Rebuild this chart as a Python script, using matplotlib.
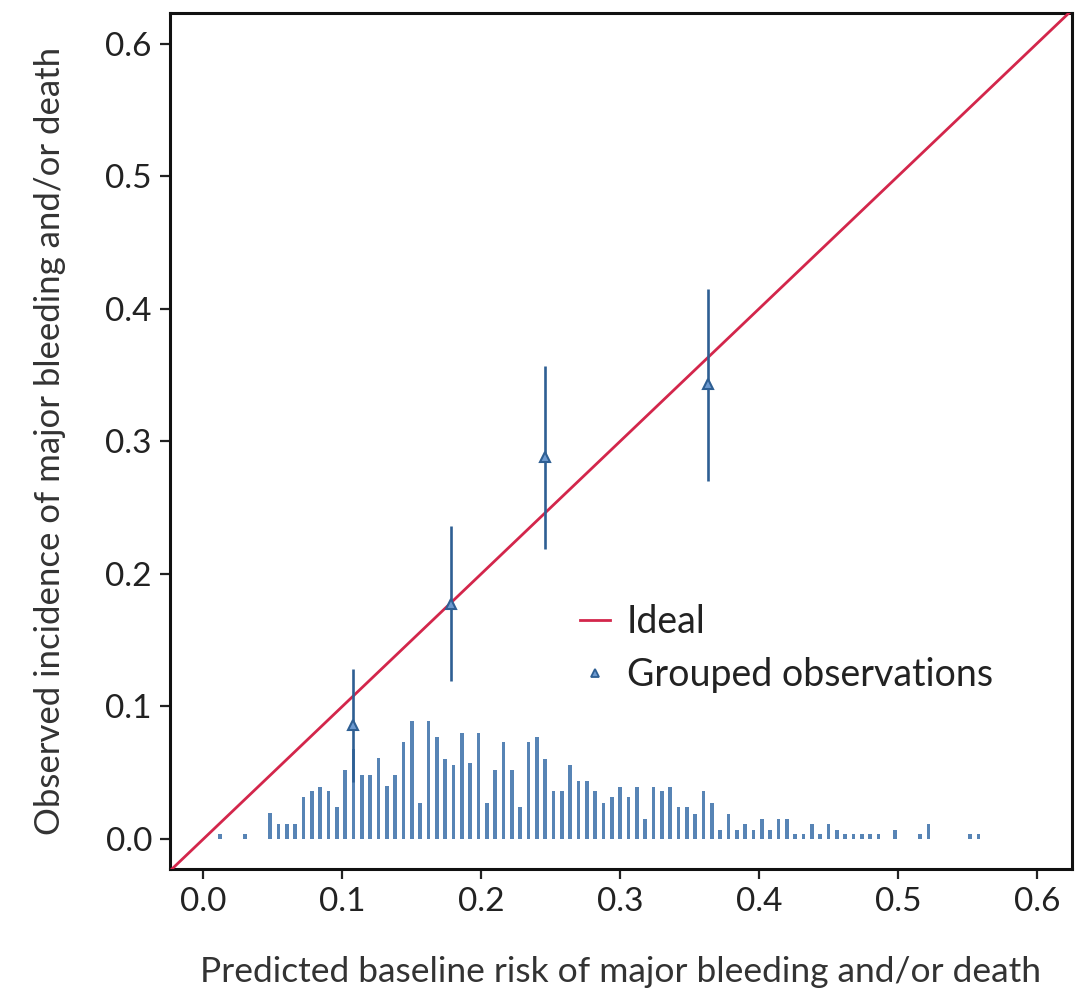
import matplotlib
matplotlib.use("Agg")
import matplotlib.pyplot as plt
from matplotlib.lines import Line2D

plt.rcParams['font.family'] = ['Lato', 'DejaVu Sans']

# Histogram of predicted risk (bin centres and heights)
hist_x = [0.012, 0.030,
          0.048, 0.054, 0.060, 0.066, 0.072, 0.078, 0.084, 0.090, 0.096, 0.102,
          0.108, 0.114, 0.120, 0.126, 0.132, 0.138, 0.144, 0.150, 0.156, 0.162,
          0.168, 0.174, 0.180, 0.186, 0.192, 0.198, 0.204, 0.210, 0.216, 0.222,
          0.228, 0.234, 0.240, 0.246, 0.252, 0.258, 0.264, 0.270, 0.276, 0.282,
          0.288, 0.294, 0.300, 0.306, 0.312, 0.318, 0.324, 0.330, 0.336, 0.342,
          0.348, 0.354, 0.360, 0.366, 0.372, 0.378, 0.384, 0.390, 0.396, 0.402,
          0.408, 0.414, 0.420, 0.426, 0.432, 0.438, 0.444, 0.450, 0.456, 0.462,
          0.468, 0.474, 0.480, 0.486,
          0.498, 0.516, 0.522, 0.552, 0.558]
hist_h = [0.004, 0.004,
          0.020, 0.011, 0.011, 0.011, 0.032, 0.036, 0.039, 0.036, 0.024, 0.052,
          0.068, 0.048, 0.048, 0.061, 0.040, 0.048, 0.073, 0.089, 0.027, 0.089,
          0.077, 0.060, 0.056, 0.080, 0.057, 0.080, 0.027, 0.052, 0.073, 0.052,
          0.024, 0.073, 0.077, 0.060, 0.036, 0.036, 0.056, 0.044, 0.044, 0.036,
          0.027, 0.032, 0.039, 0.032, 0.039, 0.015, 0.039, 0.036, 0.039, 0.024,
          0.024, 0.019, 0.036, 0.027, 0.007, 0.019, 0.007, 0.011, 0.007, 0.015,
          0.007, 0.015, 0.015, 0.004, 0.004, 0.011, 0.004, 0.011, 0.007, 0.004,
          0.004, 0.004, 0.004, 0.004,
          0.007, 0.004, 0.011, 0.004, 0.004]

# Grouped observations
grp_x = [0.108, 0.178, 0.246, 0.363]
grp_y = [0.086, 0.177, 0.288, 0.343]
grp_lo = [0.043, 0.119, 0.219, 0.270]
grp_hi = [0.128, 0.236, 0.357, 0.415]

xticks = [0.0, 0.1, 0.2, 0.3, 0.4, 0.5, 0.6]
yticks = [0.0, 0.1, 0.2, 0.3, 0.4, 0.5, 0.6]

fig = plt.figure(figsize=(10.76, 10.01), dpi=100)
ax = fig.add_axes([0.158, 0.132, 0.838, 0.855])

red = '#d3264b'
blue = '#2e5f93'
barc = '#4577ad'

ax.bar(hist_x, hist_h, width=0.0026, color=barc, alpha=0.9, linewidth=0)

ax.plot([-0.05, 0.7], [-0.05, 0.7], color=red, lw=2.0, zorder=3)

yerr = [[y - l for y, l in zip(grp_y, grp_lo)], [h - y for y, h in zip(grp_y, grp_hi)]]
ax.errorbar(grp_x, grp_y, yerr=yerr, fmt='none', ecolor=blue, elinewidth=1.9,
            capsize=0, zorder=4)
ax.plot(grp_x, grp_y, linestyle='none', marker='^', markersize=7,
        markerfacecolor='#6d9ad0', markeredgecolor=blue, markeredgewidth=1.5, zorder=5)

ax.set_xlim(-0.024, 0.625)
ax.set_ylim(-0.0225, 0.623)
ax.set_xticks(xticks)
ax.set_yticks(yticks)
ax.set_xticklabels([f'{v:.1f}' for v in xticks])
ax.set_yticklabels([f'{v:.1f}' for v in yticks])
ax.tick_params(axis='both', labelsize=24, length=7, width=1.6, color='#222222',
               labelcolor='#222222', pad=6)
for s in ax.spines.values():
    s.set_linewidth(2.2)
    s.set_color('#111111')

ax.set_xlabel('Predicted baseline risk of major bleeding and/or death', fontsize=25.5,
              color='#333333', labelpad=28)
ax.set_ylabel('Observed incidence of major bleeding and/or death', fontsize=25,
              color='#333333', labelpad=28)

handles = [Line2D([0], [0], color=red, lw=2.0),
           Line2D([0], [0], linestyle='none', marker='^', markersize=6,
                  markerfacecolor='#6d9ad0', markeredgecolor=blue, markeredgewidth=1.3)]
ax.legend(handles, ['Ideal', 'Grouped observations'], loc='upper left',
          bbox_to_anchor=(0.438, 0.327), frameon=False, fontsize=27,
          handlelength=0.8, handletextpad=0.45, labelspacing=0.45,
          labelcolor='#222222', borderaxespad=0)

fig.savefig('out.png', dpi=100)
